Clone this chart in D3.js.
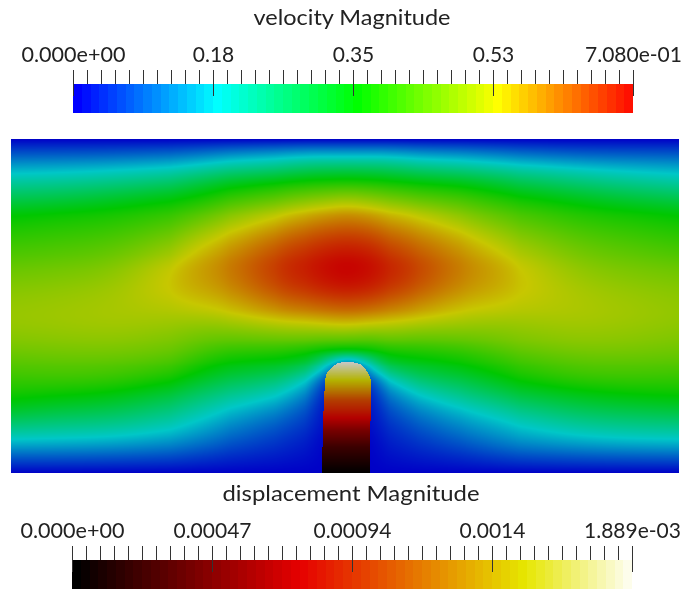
<html>
  <head>
    <style>
    body {
      margin: 0;
      background: #fff;
    }
    #view {
      position: relative;
      width: 690px;
      height: 600px;
    }
    canvas, svg {
      position: absolute;
      left: 0;
      top: 0;
    }
    text {
      font-family: Lato, sans-serif;
      fill: #222;
    }
    </style>
  </head>
  <body>
    <div id="view"></div>
    <script src="https://d3js.org/d3.v7.min.js"></script>
    <script>
    var width = 690,
      height = 600;

    // bar titles and tick labels
    var velocityTitle = "velocity Magnitude",
      displacementTitle = "displacement Magnitude";
    var velocityTicks = [0, 0.177, 0.354, 0.531, 0.708],
      velocityLabels = ["0.000e+00", "0.18", "0.35", "0.53", "7.080e-01"];
    var displacementTicks = [0, 0.00047225, 0.0009445, 0.00141675, 0.001889],
      displacementLabels = ["0.000e+00", "0.00047", "0.00094", "0.0014", "1.889e-03"];

    // colour maps, stops given as fractions of the range
    var rainbowStops = [0, 0.25, 0.5, 0.75, 1],
      rainbowColors = ["#0000ff", "#00ffff", "#00ff00", "#ffff00", "#ff0000"];
    var blackbodyStops = [0, 0.4, 0.8, 1],
      blackbodyColors = ["#000000", "#e60000", "#e6e600", "#ffffff"];

    // sample positions of the flow field, channel is 2 wide and 1 high
    var fieldX = [0, 0.147, 0.311, 0.476, 0.566, 0.656, 0.79, 0.88, 0.94, 1.006, 1.075, 1.135, 1.225, 1.344, 1.434, 1.524, 1.689, 1.853, 2];
    var fieldY = [1, 0.952, 0.907, 0.862, 0.817, 0.772, 0.713, 0.653, 0.608, 0.548, 0.488, 0.443, 0.398, 0.368, 0.344, 0.32, 0.278, 0.234, 0.189, 0.144, 0.099, 0.051, 0];

    // velocity magnitude, one list per fieldX, top to bottom
    var velocity00 = [0, .083, .161, .228, .291, .354, .39, .425, .447, .475, .49, .488, .47, .455, .44, .428, .4, .37, .32, .25, .177, .085, 0];
    var velocity01 = [0, .085, .165, .235, .3, .366, .4, .433, .455, .482, .495, .492, .475, .46, .447, .432, .405, .358, .3, .237, .172, .085, 0];
    var velocity02 = [0, .088, .177, .25, .325, .375, .41, .445, .468, .495, .505, .5, .48, .463, .448, .43, .4, .345, .29, .23, .165, .08, 0];
    var velocity03 = [0, .1, .195, .275, .354, .4, .45, .5, .537, .54, .51, .49, .465, .45, .432, .412, .365, .3, .245, .195, .14, .07, 0];
    var velocity04 = [0, .115, .215, .31, .375, .43, .5, .553, .57, .56, .522, .48, .445, .42, .395, .372, .32, .26, .21, .16, .115, .055, 0];
    var velocity05 = [0, .135, .24, .342, .41, .47, .54, .585, .598, .58, .534, .485, .435, .395, .368, .34, .285, .228, .17, .125, .085, .04, 0];
    var velocity06 = [0, .155, .255, .375, .44, .525, .6, .65, .665, .645, .585, .51, .44, .395, .36, .325, .255, .187, .125, .08, .05, .025, 0];
    var velocity07 = [0, .17, .28, .39, .47, .56, .63, .675, .687, .665, .6, .515, .44, .375, .34, .295, .19, .12, .075, .05, .03, .015, 0];
    var velocity08 = [0, .17, .285, .395, .48, .575, .645, .69, .702, .68, .61, .525, .43, .36, .27, .2, .05, .02, .01, .01, 0, 0, 0];
    var velocity09 = [0, .168, .29, .4, .5, .59, .655, .7, .715, .69, .62, .535, .43, .354, .14, .03, 0, 0, 0, 0, 0, 0, 0];
    var velocity10 = [0, .17, .285, .395, .48, .575, .645, .69, .702, .68, .61, .52, .42, .36, .265, .19, .05, .02, .01, .01, 0, 0, 0];
    var velocity11 = [0, .17, .28, .385, .465, .55, .62, .665, .682, .66, .595, .515, .44, .38, .345, .305, .18, .11, .07, .045, .03, .015, 0];
    var velocity12 = [0, .15, .26, .37, .44, .525, .59, .635, .652, .63, .57, .5, .43, .385, .354, .32, .26, .177, .12, .08, .05, .025, 0];
    var velocity13 = [0, .14, .245, .354, .42, .475, .545, .585, .597, .58, .531, .49, .44, .4, .375, .35, .29, .235, .17, .125, .085, .04, 0];
    var velocity14 = [0, .125, .23, .33, .395, .445, .505, .553, .572, .562, .524, .485, .45, .42, .395, .375, .325, .265, .2, .15, .11, .055, 0];
    var velocity15 = [0, .11, .215, .3, .375, .42, .47, .515, .54, .54, .515, .487, .465, .44, .42, .4, .36, .3, .235, .177, .135, .07, 0];
    var velocity16 = [0, .09, .19, .265, .34, .385, .425, .46, .48, .505, .51, .5, .48, .463, .445, .43, .395, .335, .28, .22, .16, .08, 0];
    var velocity17 = [0, .087, .17, .24, .31, .37, .405, .44, .46, .485, .497, .49, .475, .46, .445, .43, .4, .354, .295, .235, .175, .085, 0];
    var velocity18 = [0, .085, .16, .225, .295, .355, .39, .425, .45, .475, .485, .48, .465, .452, .44, .425, .395, .36, .305, .24, .177, .088, 0];
    var velocityColumns = [velocity00, velocity01, velocity02, velocity03, velocity04, velocity05, velocity06, velocity07, velocity08, velocity09, velocity10, velocity11, velocity12, velocity13, velocity14, velocity15, velocity16, velocity17, velocity18];

    // displacement up the post, and the post outline (stepped, like the coarse mesh)
    var postHeight = [0, 0.078, 0.129, 0.165, 0.219, 0.278, 0.332];
    var postDisplacement = [0, 0.00025, 0.00051, 0.00076, 0.00102, 0.00151, 0.00189];
    var postOutlineX = [0.931, 0.931, 0.934, 0.934, 0.937, 0.937, 0.94, 0.94, 0.946, 0.961, 0.979, 0.994, 1.024, 1.045, 1.06, 1.072, 1.078, 1.078, 1.075, 1.075];
    var postOutlineY = [0, 0.078, 0.078, 0.186, 0.186, 0.246, 0.246, 0.278, 0.302, 0.317, 0.329, 0.332, 0.332, 0.326, 0.314, 0.293, 0.275, 0.156, 0.156, 0];

    var view = d3.select("#view");

    var plot = {left: 11, top: 139, width: 668, height: 334};

    var x = d3.scaleLinear().domain([0, 2]).range([plot.left, plot.left + plot.width]);
    var y = d3.scaleLinear().domain([0, 1]).range([plot.top + plot.height, plot.top]);

    // lookup from channel position to grid index, so the splines run over the lists
    var xIndex = d3.scaleLinear().domain(fieldX).range(d3.range(fieldX.length));
    var yIndex = d3.scaleLinear().domain(fieldY).range(d3.range(fieldY.length));

    var rainbow = d3.scaleLinear()
      .domain(rainbowStops.map(function(d){ return d * 0.708; }))
      .range(rainbowColors)
      .clamp(true);
    var blackbody = d3.scaleLinear()
      .domain(blackbodyStops.map(function(d){ return d * 0.001889; }))
      .range(blackbodyColors)
      .clamp(true);
    var postValue = d3.scaleLinear().domain(postHeight).range(postDisplacement).clamp(true);

    // the render is lit, so colours on the surface come out darker than on the bars
    var lighting = 0.78;

    var canvas = view.append("canvas")
      .attr("width", width)
      .attr("height", height);
    var ctx = canvas.node().getContext("2d");
    var image = ctx.createImageData(plot.width, plot.height);

    var outline = postOutlineX.map(function(d, i){ return [x(d), y(postOutlineY[i])]; });

    // rows are smoothed across the columns first, then each pixel column is smoothed down
    var rowSplines = fieldY.map(function(d, r){
      return d3.interpolateBasis(velocityColumns.map(function(c){ return c[r]; }));
    });

    d3.range(plot.width).forEach(function(i){
      var px = plot.left + i + 0.5;
      var tx = xIndex(x.invert(px)) / (fieldX.length - 1);
      var colSpline = d3.interpolateBasis(rowSplines.map(function(s){ return s(tx); }));

      d3.range(plot.height).forEach(function(j){
        var py = plot.top + j + 0.5;
        var color;
        if (d3.polygonContains(outline, [px, py])) {
          color = d3.rgb(blackbody(postValue(y.invert(py))));
        } else {
          color = d3.rgb(rainbow(colSpline(yIndex(y.invert(py)) / (fieldY.length - 1))));
        }
        var k = (j * plot.width + i) * 4;
        image.data[k] = color.r * lighting;
        image.data[k + 1] = color.g * lighting;
        image.data[k + 2] = color.b * lighting;
        image.data[k + 3] = 255;
      });
    });
    ctx.putImageData(image, plot.left, plot.top);

    var svg = view.append("svg")
      .attr("width", width)
      .attr("height", height);

    // 64 flat colours in the bar, 41 ticks with every tenth one longer
    function colorBar(opts) {
      var scale = d3.scaleLinear()
        .domain([0, opts.max])
        .range([opts.left, opts.left + 560]);

      var g = svg.append("g");

      g.selectAll(".band")
        .data(d3.range(64))
        .enter().append("rect")
          .attr("class", "band")
          .attr("x", function(d){ return Math.round(scale(d / 64 * opts.max)); })
          .attr("y", opts.top)
          .attr("width", function(d){
            return Math.round(scale((d + 1) / 64 * opts.max)) - Math.round(scale(d / 64 * opts.max));
          })
          .attr("height", opts.height)
          .attr("shape-rendering", "crispEdges")
          .attr("fill", function(d){ return opts.color(d / 64 * opts.max); });

      var minor = d3.axisTop(scale)
        .tickValues(d3.range(41).map(function(d){ return d / 40 * opts.max; }))
        .tickSize(14)
        .tickFormat("");
      var major = d3.axisTop(scale)
        .tickValues(opts.ticks)
        .tickSize(14)
        .tickPadding(8)
        .tickFormat(function(d, i){ return opts.labels[i]; });

      g.append("g").attr("transform", "translate(0," + opts.top + ")").call(minor);
      var labels = g.append("g").attr("transform", "translate(0," + opts.top + ")").call(major);

      g.selectAll(".domain").remove();
      g.selectAll(".tick line")
        .attr("stroke", "#333")
        .attr("y2", -14);
      labels.selectAll(".tick line")
        .attr("y1", opts.majorDrop);
      labels.selectAll(".tick text")
        .attr("font-size", 21)
        .attr("font-family", null)
        .attr("fill", null)
        .filter(function(d, i){ return i === 0; })
          .attr("textLength", 104)
          .attr("lengthAdjust", "spacingAndGlyphs");
      labels.attr("font-family", null).attr("font-size", null);

      g.append("text")
        .attr("x", opts.left + 279)
        .attr("y", opts.titleY)
        .attr("text-anchor", "middle")
        .attr("font-size", 22)
        .attr("textLength", opts.titleWidth)
        .attr("lengthAdjust", "spacingAndGlyphs")
        .text(opts.title);
    }

    colorBar({
      title: velocityTitle, titleY: 25, titleWidth: 197, max: 0.708, ticks: velocityTicks, labels: velocityLabels,
      color: rainbow, left: 73, top: 84, height: 29, majorDrop: 12
    });
    colorBar({
      title: displacementTitle, titleY: 501, titleWidth: 257, max: 0.001889, ticks: displacementTicks, labels: displacementLabels,
      color: blackbody, left: 72, top: 560, height: 29, majorDrop: 12
    });
    </script>
  </body>
</html>
